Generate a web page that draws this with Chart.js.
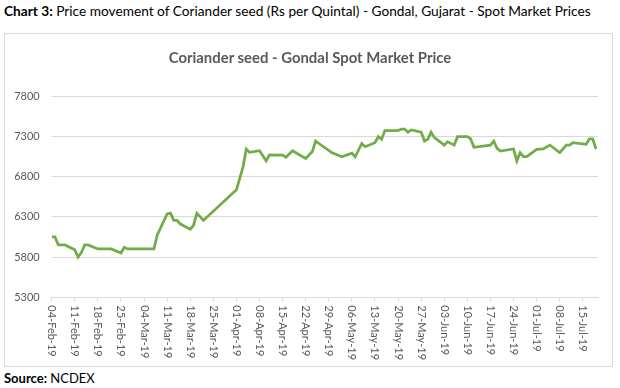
<!DOCTYPE html>
<html>
<head>
<meta charset="utf-8">
<script src="https://cdn.jsdelivr.net/npm/chart.js@4.4.1/dist/chart.umd.min.js"></script>
<style>
  body { margin: 0; background: #fff; font-family: Lato, "Liberation Sans", sans-serif; color: #000; }
  #hdr { position: absolute; left: 4px; top: 2px; font-size: 13.7px; white-space: nowrap; }
  #box { position: absolute; left: 4px; top: 33px; width: 607px; height: 332px; border: 1px solid #d9d9d9; }
  #ttl { position: absolute; left: 0; width: 620px; top: 48px; text-align: center; font-size: 14.9px; font-weight: bold; color: #595959; }
  #src { position: absolute; left: 4px; top: 370px; font-size: 13px; }
</style>
</head>
<body>
<div id="hdr"><b>Chart 3:</b> Price movement of Coriander seed (Rs per Quintal) - Gondal, Gujarat - Spot Market Prices</div>
<div id="box"><canvas id="priceChart"></canvas></div>
<div id="ttl">Coriander seed - Gondal Spot Market Price</div>
<div id="src"><b>Source:</b> NCDEX</div>
<script>
const dates = ['2019-02-04','2019-02-05','2019-02-06','2019-02-08','2019-02-11','2019-02-12','2019-02-13','2019-02-14','2019-02-15','2019-02-18','2019-02-22','2019-02-25','2019-02-26','2019-02-27',
  '2019-03-07','2019-03-08','2019-03-11','2019-03-12','2019-03-13','2019-03-14','2019-03-15','2019-03-18','2019-03-19','2019-03-20','2019-03-22',
  '2019-04-01','2019-04-03','2019-04-04','2019-04-05','2019-04-08','2019-04-10','2019-04-11','2019-04-15','2019-04-16','2019-04-18','2019-04-22','2019-04-24','2019-04-25','2019-04-26','2019-04-30',
  '2019-05-03','2019-05-06','2019-05-07','2019-05-09','2019-05-10','2019-05-13','2019-05-14','2019-05-15','2019-05-16','2019-05-20','2019-05-21','2019-05-22','2019-05-23','2019-05-24','2019-05-27','2019-05-28','2019-05-29','2019-05-30','2019-05-31',
  '2019-06-03','2019-06-04','2019-06-06','2019-06-07','2019-06-10','2019-06-11','2019-06-12','2019-06-17','2019-06-18','2019-06-19','2019-06-20','2019-06-24','2019-06-25','2019-06-26','2019-06-27','2019-06-28',
  '2019-07-01','2019-07-03','2019-07-05','2019-07-08','2019-07-10','2019-07-11','2019-07-12','2019-07-16','2019-07-17','2019-07-18','2019-07-19'];

const prices = [6050,6050,5950,5950,5890,5800,5855,5950,5950,5900,5900,5850,5920,5900,
  5900,6075,6335,6345,6255,6255,6210,6145,6195,6345,6255,
  6635,6920,7140,7100,7120,6995,7070,7065,7040,7120,7025,7110,7240,7210,7095,
  7045,7090,7045,7210,7170,7220,7295,7262,7370,7370,7390,7390,7350,7378,7350,7240,7262,7350,7283,
  7190,7233,7190,7295,7295,7266,7163,7190,7240,7150,7117,7142,6993,7096,7047,7047,
  7138,7142,7191,7096,7191,7191,7220,7200,7266,7266,7142];

const tickLabels = ['04-Feb-19','11-Feb-19','18-Feb-19','25-Feb-19','04-Mar-19','11-Mar-19','18-Mar-19','25-Mar-19',
  '01-Apr-19','08-Apr-19','15-Apr-19','22-Apr-19','29-Apr-19','06-May-19','13-May-19','20-May-19','27-May-19',
  '03-Jun-19','10-Jun-19','17-Jun-19','24-Jun-19','01-Jul-19','08-Jul-19','15-Jul-19'];

const yTicks = [5300, 5800, 6300, 6800, 7300, 7800];

// days since first date, so the x axis is a plain linear scale
const DAY = 86400000;
const start = Date.parse(dates[0]);
const months = {Jan:0,Feb:1,Mar:2,Apr:3,May:4,Jun:5,Jul:6,Aug:7,Sep:8,Oct:9,Nov:10,Dec:11};
function labelToDay(s) {
    const p = s.split('-');
    return (Date.UTC(2000 + +p[2], months[p[1]], +p[0]) - start) / DAY;
}
const points = dates.map((d, i) => ({ x: (Date.parse(d) - start) / DAY, y: prices[i] }));
const tickDays = tickLabels.map(labelToDay);

// excel style labels: rotated clockwise, reading top to bottom
const rotatedLabels = {
    id: 'rotatedLabels',
    afterDraw(chart) {
        const xs = chart.scales.x;
        const c = chart.ctx;
        c.save();
        c.fillStyle = '#595959';
        c.font = '11px Lato, "Liberation Sans", sans-serif';
        c.textAlign = 'left';
        c.textBaseline = 'middle';
        tickLabels.forEach((lab, i) => {
            const px = xs.getPixelForValue(tickDays[i]);
            c.save();
            c.translate(px, chart.chartArea.bottom + 8);
            c.rotate(Math.PI / 2);
            c.fillText(lab, 0, 0);
            c.restore();
        });
        c.restore();
    }
};

const ctx = document.getElementById('priceChart').getContext('2d');
const priceChart = new Chart(ctx, {
    type: 'line',
    data: {
        datasets: [{
            data: points,
            borderColor: '#70ad47',
            borderWidth: 2.75,
            pointRadius: 0,
            tension: 0,
            fill: false
        }]
    },
    options: {
        responsive: true,
        maintainAspectRatio: false,
        animation: false,
        layout: { padding: { top: 62, right: 14, left: 0, bottom: 0 } },
        plugins: { legend: { display: false }, tooltip: { enabled: false } },
        scales: {
            x: {
                type: 'linear',
                min: 0,
                max: 165.6,
                afterBuildTicks: (scale) => { scale.ticks = tickDays.map(v => ({ value: v })); },
                afterFit: (scale) => { scale.height = 68.7; },
                ticks: { display: false },
                grid: { drawOnChartArea: false, drawTicks: true, tickLength: 4, color: '#d9d9d9' },
                border: { display: true, color: '#d9d9d9' }
            },
            y: {
                min: 5300,
                max: 7800,
                afterBuildTicks: (scale) => { scale.ticks = yTicks.map(v => ({ value: v })); },
                afterFit: (scale) => { scale.width = 46.7; },
                ticks: {
                    padding: 12,
                    color: '#595959',
                    font: { family: 'Lato', size: 11 },
                    callback: (v) => String(v)
                },
                grid: { color: '#d9d9d9', drawTicks: false },
                border: { display: false }
            }
        }
    },
    plugins: [rotatedLabels]
});
</script>
</body>
</html>
